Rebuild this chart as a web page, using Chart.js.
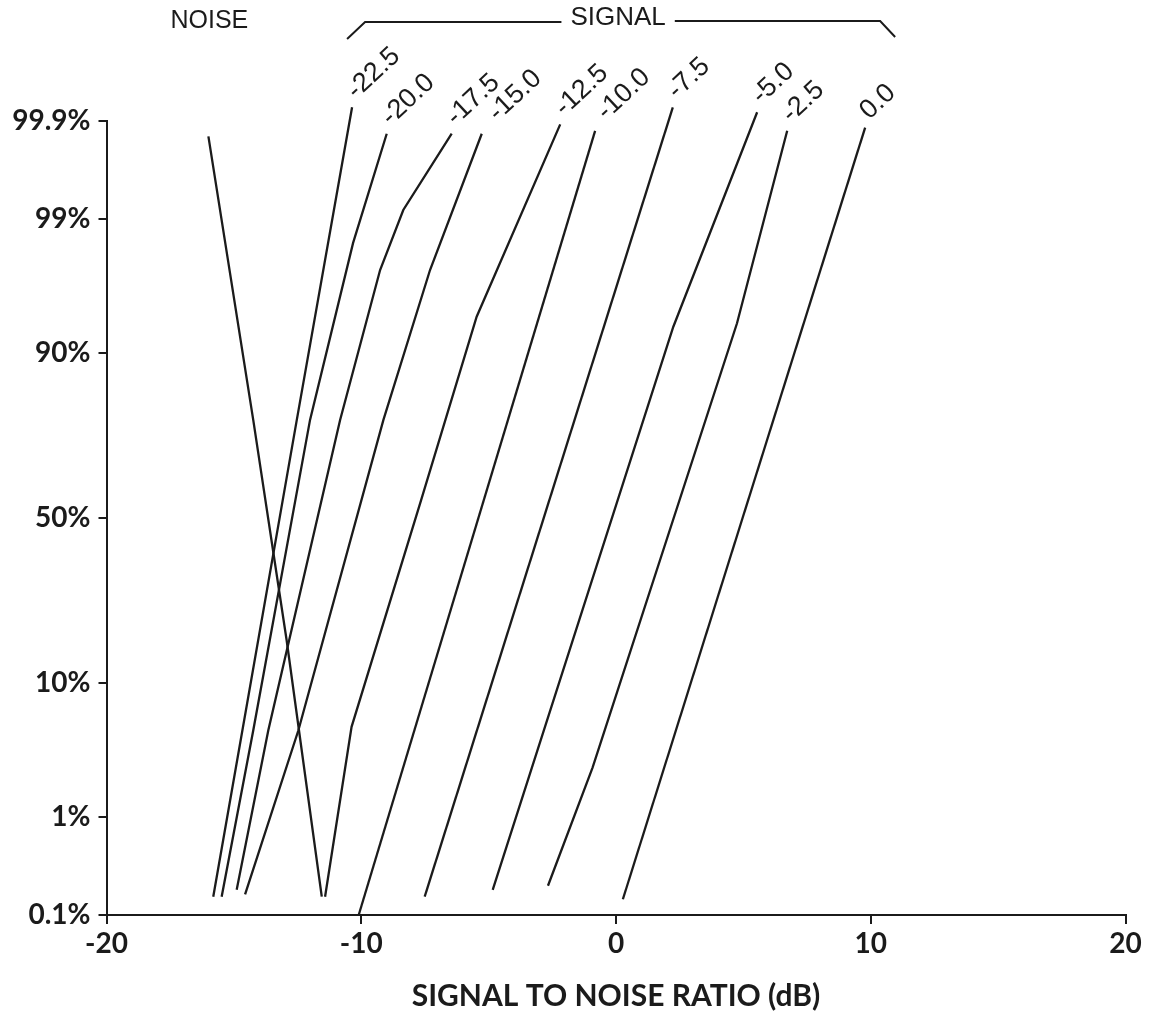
<!DOCTYPE html>
<html>
<head>
<meta charset="utf-8">
<title>Signal to noise ratio</title>
<script src="https://cdn.jsdelivr.net/npm/chart.js@4.4.1/dist/chart.umd.min.js"></script>
<style>
  html, body { margin: 0; padding: 0; background: #fff; }
  canvas { display: block; }
</style>
</head>
<body>
<canvas id="snrChart" width="1150" height="1020"></canvas>
<script>
// y axis is a normal probability scale: values are cumulative percent
const tickPercents = [0.1, 1, 10, 50, 90, 99, 99.9];
const tickLabels = ['0.1%', '1%', '10%', '50%', '90%', '99%', '99.9%'];
const xTicks = [-20, -10, 0, 10, 20];

// noise distribution
const noiseDb = [-16.00, -14.24, -12.93, -11.55];
const noisePct = [99.85, 77.7, 17.1, 0.16];

// signal distributions, one per signal level
const signalLevels = ['-22.5', '-20.0', '-17.5', '-15.0', '-12.5', '-10.0', '-7.5', '-5.0', '-2.5', '0.0'];

const dbM22_5 = [-10.36, -12.53, -15.81];
const pctM22_5 = [99.93, 77.7, 0.16];

const dbM20_0 = [-9.00, -10.32, -12.01, -14.24, -15.48];
const pctM20_0 = [99.86, 98.38, 77.7, 4.9, 0.16];

const dbM17_5 = [-6.45, -8.35, -9.26, -10.83, -13.65, -14.89];
const pctM17_5 = [99.86, 99.17, 97.31, 77.7, 4.9, 0.19];

const dbM15_0 = [-5.27, -7.30, -9.13, -12.47, -14.56];
const pctM15_0 = [99.86, 97.31, 77.7, 4.9, 0.17];

const dbM12_5 = [-2.19, -5.47, -7.65, -10.38, -11.42];
const pctM12_5 = [99.89, 94.12, 55.5, 5.2, 0.16];

const dbM10_0 = [-0.82, -10.10];
const pctM10_0 = [99.87, 0.1];

const dbM7_5 = [2.23, -7.51];
const pctM7_5 = [99.93, 0.16];

const dbM5_0 = [5.54, 2.25, -4.84];
const pctM5_0 = [99.92, 93.15, 0.19];

const dbM2_5 = [6.72, 4.75, -0.92, -2.67];
const pctM2_5 = [99.87, 93.5, 2.6, 0.21];

const db0_0 = [9.78, 0.27];
const pct0_0 = [99.88, 0.15];

const signalDb = [dbM22_5, dbM20_0, dbM17_5, dbM15_0, dbM12_5, dbM10_0, dbM7_5, dbM5_0, dbM2_5, db0_0];
const signalPct = [pctM22_5, pctM20_0, pctM17_5, pctM15_0, pctM12_5, pctM10_0, pctM7_5, pctM5_0, pctM2_5, pct0_0];

const INK = '#1b1b1b';
const AXIS_FONT = 'Lato, "DejaVu Sans", sans-serif';
const LABEL_FONT = '"Liberation Sans", Arial, sans-serif';
const LABEL_ANGLE = 43 * Math.PI / 180;

// inverse of the standard normal CDF (Acklam's approximation)
function probit(p) {
    const a = [-3.969683028665376e+01, 2.209460984245205e+02, -2.759285104469687e+02, 1.383577518672690e+02, -3.066479806614716e+01, 2.506628277459239e+00];
    const b = [-5.447609879822406e+01, 1.615858368580409e+02, -1.556989798598866e+02, 6.680131188771972e+01, -1.328068155288572e+01];
    const c = [-7.784894002430293e-03, -3.223964580411365e-01, -2.400758277161838e+00, -2.549732539343734e+00, 4.374664141464968e+00, 2.938163982698783e+00];
    const d = [7.784695709041462e-03, 3.224671290700398e-01, 2.445134137142996e+00, 3.754408661907416e+00];
    const pLow = 0.02425;
    let q, r;
    if (p < pLow) {
        q = Math.sqrt(-2 * Math.log(p));
        return (((((c[0] * q + c[1]) * q + c[2]) * q + c[3]) * q + c[4]) * q + c[5]) /
            ((((d[0] * q + d[1]) * q + d[2]) * q + d[3]) * q + 1);
    }
    if (p <= 1 - pLow) {
        q = p - 0.5;
        r = q * q;
        return (((((a[0] * r + a[1]) * r + a[2]) * r + a[3]) * r + a[4]) * r + a[5]) * q /
            (((((b[0] * r + b[1]) * r + b[2]) * r + b[3]) * r + b[4]) * r + 1);
    }
    q = Math.sqrt(-2 * Math.log(1 - p));
    return -(((((c[0] * q + c[1]) * q + c[2]) * q + c[3]) * q + c[4]) * q + c[5]) /
        ((((d[0] * q + d[1]) * q + d[2]) * q + d[3]) * q + 1);
}

function toPoints(dbs, pcts) {
    return dbs.map((v, i) => ({ x: v, y: probit(pcts[i] / 100) }));
}

function lineDataset(label, dbs, pcts) {
    return {
        label: label,
        data: toPoints(dbs, pcts),
        showLine: true,
        borderColor: INK,
        borderWidth: 2.3,
        pointRadius: 0,
        tension: 0,
        clip: false
    };
}

const datasets = [lineDataset('NOISE', noiseDb, noisePct)];
signalLevels.forEach((lvl, i) => {
    datasets.push(lineDataset(lvl, signalDb[i], signalPct[i]));
});

// NOISE / SIGNAL headers and the rotated level labels at the top of each line
const annotations = {
    id: 'annotations',
    afterDraw(chart) {
        const ctx = chart.ctx;
        ctx.save();
        ctx.fillStyle = INK;
        ctx.strokeStyle = INK;

        const noiseTop = chart.getDatasetMeta(0).data[0];
        ctx.font = '25px ' + LABEL_FONT;
        ctx.textAlign = 'center';
        ctx.textBaseline = 'middle';
        ctx.fillText('NOISE', noiseTop.x + 1, 21);

        // level labels; nudged along their slant if a neighbour at the same height is too close
        ctx.font = '27px ' + LABEL_FONT;
        ctx.textAlign = 'left';
        let prevX = -Infinity, prevY = 0;
        signalLevels.forEach((lvl, i) => {
            const top = chart.getDatasetMeta(i + 1).data[0];
            let lx = top.x - 1;
            let ly = top.y - 13;
            if (Math.abs(ly - prevY) < 8) {
                const shift = Math.max(0, prevX + 42 - lx);
                lx += shift;
                ly -= shift * 0.35;
            }
            prevX = lx;
            prevY = ly;
            ctx.save();
            ctx.translate(lx, ly);
            ctx.rotate(-LABEL_ANGLE);
            ctx.fillText(lvl, 0, 0);
            ctx.restore();
        });

        // bracket over the signal lines
        const first = chart.getDatasetMeta(1).data[0];
        const last = chart.getDatasetMeta(signalLevels.length).data[0];
        const left = first.x - 5;
        const right = last.x + 30;
        const mid = (left + right) / 2 - 3;
        ctx.font = '26px ' + LABEL_FONT;
        ctx.textAlign = 'center';
        ctx.fillText('SIGNAL', mid, 18);
        const half = ctx.measureText('SIGNAL').width / 2 + 9;
        ctx.lineWidth = 2;
        ctx.beginPath();
        ctx.moveTo(left, 39);
        ctx.lineTo(left + 18, 22);
        ctx.lineTo(mid - half, 22);
        ctx.moveTo(mid + half, 21);
        ctx.lineTo(right - 15, 21);
        ctx.lineTo(right, 37);
        ctx.stroke();
        ctx.restore();
    }
};

new Chart(document.getElementById('snrChart'), {
    type: 'scatter',
    data: { datasets: datasets },
    options: {
        responsive: false,
        animation: false,
        layout: { padding: { top: 120.7, right: 24.5, left: 0, bottom: 0 } },
        plugins: {
            legend: { display: false },
            tooltip: { enabled: false }
        },
        scales: {
            x: {
                type: 'linear',
                min: xTicks[0],
                max: xTicks[xTicks.length - 1],
                afterFit(scale) { scale.height = 105; },
                afterBuildTicks(scale) { scale.ticks = xTicks.map(v => ({ value: v })); },
                grid: { drawOnChartArea: false, drawTicks: true, tickLength: 9, color: INK, lineWidth: 2 },
                border: { display: true, color: INK, width: 2 },
                ticks: {
                    color: INK,
                    padding: 3,
                    maxRotation: 0,
                    font: { family: AXIS_FONT, size: 28, weight: 'bold' },
                    callback: v => String(v)
                },
                title: {
                    display: true,
                    text: 'SIGNAL TO NOISE RATIO (dB)',
                    color: INK,
                    font: { family: AXIS_FONT, size: 30, weight: 'bold' },
                    padding: { top: 0, bottom: 6 }
                }
            },
            y: {
                type: 'linear',
                min: probit(tickPercents[0] / 100),
                max: probit(tickPercents[tickPercents.length - 1] / 100),
                afterFit(scale) { scale.width = 106.5; },
                afterBuildTicks(scale) {
                    scale.ticks = tickPercents.map(p => ({ value: probit(p / 100) }));
                },
                grid: { drawOnChartArea: false, drawTicks: true, tickLength: 8, color: INK, lineWidth: 2 },
                border: { display: true, color: INK, width: 2 },
                ticks: {
                    color: INK,
                    padding: 8,
                    font: { family: AXIS_FONT, size: 28, weight: 'bold' },
                    callback: (v, i) => tickLabels[i]
                }
            }
        }
    },
    plugins: [annotations]
});
</script>
</body>
</html>
